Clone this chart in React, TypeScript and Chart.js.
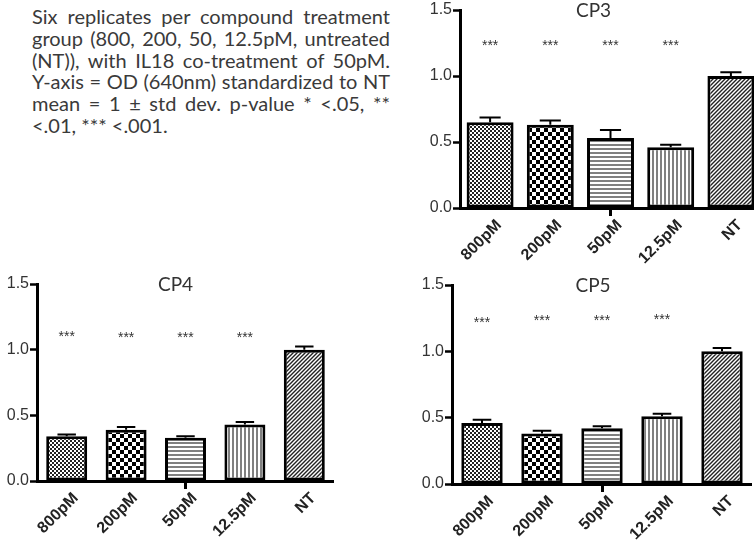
import React, { useEffect, useRef } from "react";
import { Chart, registerables } from "chart.js";

Chart.register(...registerables);

const categories = ["800pM", "200pM", "50pM", "12.5pM", "NT"];
const yTicks = [0, 0.5, 1.0, 1.5];
const starText = "***";

const cp3Means = [0.65, 0.63, 0.53, 0.46, 1.0];
const cp3Errors = [0.035, 0.033, 0.06, 0.02, 0.028];
const cp3Stars = [1.245, 1.245, 1.245, 1.245, null];

const cp4Means = [0.34, 0.39, 0.33, 0.43, 1.0];
const cp4Errors = [0.015, 0.022, 0.01, 0.02, 0.025];
const cp4Stars = [1.11, 1.1, 1.1, 1.1, null];

const cp5Means = [0.46, 0.38, 0.42, 0.51, 1.0];
const cp5Errors = [0.025, 0.022, 0.015, 0.02, 0.025];
const cp5Stars = [1.23, 1.24, 1.24, 1.25, null];

const patternKinds = ["fine", "check", "hlines", "vlines", "diag"];

const noteLines = [
  "Six replicates per compound treatment",
  "group (800, 200, 50, 12.5pM, untreated",
  "(NT)), with  IL18 co-treatment of 50pM.",
  "Y-axis = OD (640nm) standardized to NT",
  "mean = 1 \u00b1 std dev. p-value * <.05, **",
  "<.01, *** <.001.",
];

function makePattern(kind: string): CanvasPattern | string {
  const c = document.createElement("canvas");
  const g = c.getContext("2d");
  if (!g) return "#888";
  if (kind === "fine") {
    c.width = 4; c.height = 4;
    g.fillStyle = "#fff"; g.fillRect(0, 0, 4, 4);
    g.fillStyle = "#222"; g.fillRect(0, 0, 2, 2); g.fillRect(2, 2, 2, 2);
  } else if (kind === "check") {
    c.width = 8; c.height = 8;
    g.fillStyle = "#fff"; g.fillRect(0, 0, 8, 8);
    g.fillStyle = "#000"; g.fillRect(0, 0, 4, 4); g.fillRect(4, 4, 4, 4);
  } else if (kind === "hlines") {
    c.width = 4; c.height = 4;
    g.fillStyle = "#fff"; g.fillRect(0, 0, 4, 4);
    g.fillStyle = "#808080"; g.fillRect(0, 0, 4, 2);
  } else if (kind === "vlines") {
    c.width = 4; c.height = 4;
    g.fillStyle = "#fff"; g.fillRect(0, 0, 4, 4);
    g.fillStyle = "#808080"; g.fillRect(0, 0, 2, 4);
  } else {
    c.width = 4; c.height = 4;
    g.fillStyle = "#fff"; g.fillRect(0, 0, 4, 4);
    g.strokeStyle = "#222"; g.lineWidth = 1.4;
    g.beginPath();
    g.moveTo(-1, 5); g.lineTo(5, -1);
    g.moveTo(-3, 3); g.lineTo(3, -3);
    g.moveTo(1, 7); g.lineTo(7, 1);
    g.stroke();
  }
  return g.createPattern(c, "repeat") || "#888";
}

const decorPlugin = {
  id: "decor",
  afterDatasetsDraw(chart: any, _args: any, opts: any) {
    const meta = chart.getDatasetMeta(0);
    const ys = chart.scales.y;
    const ctx = chart.ctx;
    const vals = chart.data.datasets[0].data;
    ctx.save();
    ctx.strokeStyle = "#000";
    ctx.lineWidth = 2;
    meta.data.forEach((el: any, i: number) => {
      const v = vals[i];
      const e = opts.errors[i];
      const yTop = ys.getPixelForValue(v + e);
      const w = el.width * 0.45;
      ctx.beginPath();
      ctx.moveTo(el.x, el.y);
      ctx.lineTo(el.x, yTop);
      ctx.moveTo(el.x - w / 2, yTop);
      ctx.lineTo(el.x + w / 2, yTop);
      ctx.stroke();
      const s = opts.stars[i];
      if (s != null) {
        ctx.fillStyle = "#333";
        ctx.font = "14px 'Liberation Sans', Arial, sans-serif";
        ctx.textAlign = "center";
        ctx.textBaseline = "middle";
        ctx.fillText(starText, el.x, ys.getPixelForValue(s) + 2);
      }
    });
    const area = chart.chartArea;
    ctx.fillStyle = "#333";
    ctx.font = "19px Lato, 'Open Sans', sans-serif";
    ctx.textAlign = "center";
    ctx.textBaseline = "middle";
    ctx.fillText(opts.title, (area.left + area.right) / 2 + opts.titleDx, area.top + 1);
    ctx.restore();
  },
};

type PanelProps = {
  title: string;
  means: number[];
  errors: number[];
  stars: (number | null)[];
  left: number;
  top: number;
  width: number;
  height: number;
  yWidth: number;
  xHeight: number;
  padTop: number;
  barPct: number;
  titleDx: number;
};

function BarPanel(p: PanelProps) {
  const ref = useRef<HTMLCanvasElement | null>(null);
  useEffect(() => {
    if (!ref.current) return;
    const fills = patternKinds.map(makePattern);
    const chart = new Chart(ref.current, {
      type: "bar",
      data: {
        labels: categories,
        datasets: [
          {
            data: p.means,
            backgroundColor: fills as any,
            borderColor: "#000",
            borderWidth: 3,
            borderSkipped: false,
            barPercentage: p.barPct,
            categoryPercentage: 1,
          },
        ],
      },
      options: {
        animation: false,
        responsive: false,
        layout: { padding: { top: p.padTop, left: 0, right: 0, bottom: 0 } },
        plugins: {
          legend: { display: false },
          tooltip: { enabled: false },
          title: { display: false },
          decor: { errors: p.errors, stars: p.stars, title: p.title, titleDx: p.titleDx },
        } as any,
        scales: {
          x: {
            offset: true,
            afterFit: (s: any) => { s.height = p.xHeight; s.paddingLeft = 0; s.paddingRight = 0; },
            border: { display: true, width: 3, color: "#000" },
            grid: {
              display: true,
              drawOnChartArea: false,
              offset: false,
              drawTicks: true,
              tickLength: 8,
              tickWidth: 3,
              tickColor: (c: any) => (c.index === 2 ? "#000" : "rgba(0,0,0,0)"),
            },
            ticks: {
              autoSkip: false,
              minRotation: 45,
              maxRotation: 45,
              padding: 0,
              labelOffset: 9,
              color: "#222",
              font: { family: "'Liberation Sans', Arial, sans-serif", size: 16, weight: "bold" },
            },
          },
          y: {
            min: 0,
            max: 1.5,
            afterFit: (s: any) => { s.width = p.yWidth; s.paddingTop = 0; s.paddingBottom = 0; },
            afterBuildTicks: (s: any) => { s.ticks = yTicks.map((v) => ({ value: v })); },
            border: { display: true, width: 3, color: "#000" },
            grid: {
              display: true,
              drawOnChartArea: false,
              drawTicks: true,
              tickLength: 7,
              tickWidth: 2.5,
              tickColor: "#000",
            },
            ticks: {
              padding: 1,
              color: "#333",
              font: { family: "'Liberation Sans', Arial, sans-serif", size: 16 },
              callback: (v: any) => Number(v).toFixed(1),
            },
          },
        },
      } as any,
      plugins: [decorPlugin],
    });
    return () => chart.destroy();
  }, []);
  return (
    <canvas
      ref={ref}
      width={p.width}
      height={p.height}
      style={{ position: "absolute", left: p.left, top: p.top, width: p.width, height: p.height }}
    />
  );
}

export default function App() {
  return (
    <div
      style={{
        position: "absolute",
        left: 0,
        top: 0,
        width: 754,
        height: 542,
        overflow: "hidden",
        background: "#fff",
      }}
    >
      <div
        style={{
          position: "absolute",
          left: 32,
          top: 6,
          width: 358,
          fontFamily: "Lato, 'Open Sans', sans-serif",
          fontSize: 20,
          lineHeight: "21.8px",
          color: "#3a3a3a",
        }}
      >
        {noteLines.map((l, i) => (
          <div
            key={i}
            style={{
              textAlign: i < noteLines.length - 1 ? "justify" : "left",
              textAlignLast: i < noteLines.length - 1 ? "justify" : "left",
              whiteSpace: "nowrap",
            } as any}
          >
            {l}
          </div>
        ))}
      </div>
      <BarPanel
        title="CP3" means={cp3Means} errors={cp3Errors} stars={cp3Stars}
        left={400} top={0} width={361} height={274} yWidth={60} xHeight={66}
        padTop={10} barPct={0.78} titleDx={-17}
      />
      <BarPanel
        title="CP4" means={cp4Means} errors={cp4Errors} stars={cp4Stars}
        left={0} top={274} width={334} height={273} yWidth={37} xHeight={66}
        padTop={10} barPct={0.69} titleDx={-10}
      />
      <BarPanel
        title="CP5" means={cp5Means} errors={cp5Errors} stars={cp5Stars}
        left={392} top={274} width={360} height={276} yWidth={60} xHeight={66}
        padTop={11} barPct={0.69} titleDx={-9}
      />
    </div>
  );
}
